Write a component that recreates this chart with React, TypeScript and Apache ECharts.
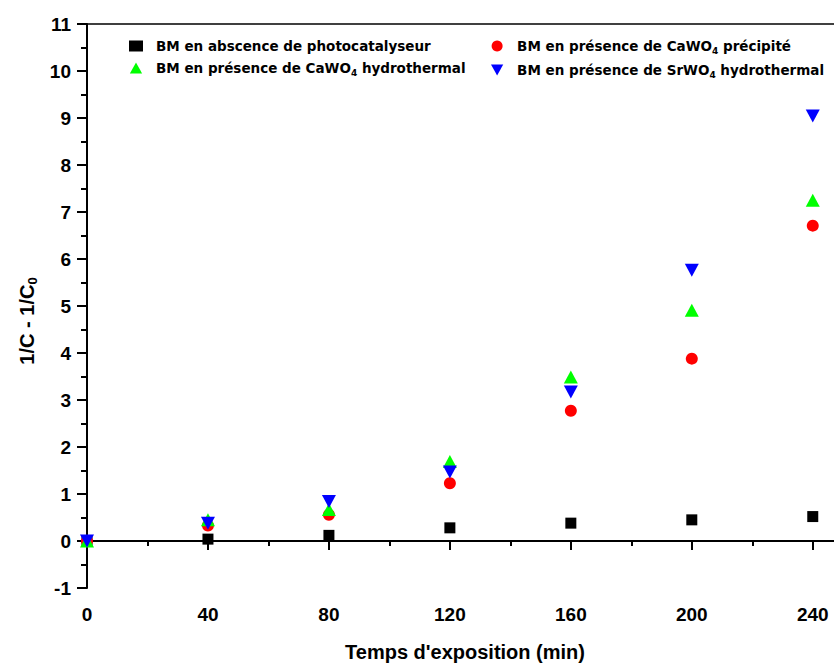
import React, { useEffect, useRef } from "react";
import * as echarts from "echarts";

const times = [0, 40, 80, 120, 160, 200, 240];
const noCatalyst = [0, 0.04, 0.12, 0.28, 0.38, 0.45, 0.52];
const caWO4Precip = [0, 0.33, 0.56, 1.23, 2.77, 3.88, 6.71];
const caWO4Hydro = [0, 0.45, 0.67, 1.69, 3.49, 4.91, 7.25];
const srWO4Hydro = [0, 0.38, 0.84, 1.47, 3.17, 5.76, 9.04];

const seriesNames = [
  "BM en abscence de photocatalyseur",
  "BM en présence de CaWO4 précipité",
  "BM en présence de CaWO4 hydrothermal",
  "BM en présence de SrWO4 hydrothermal",
];
const legendRich: Record<string, string> = {
  "BM en abscence de photocatalyseur": "{g|}{t|BM en abscence de photocatalyseur}",
  "BM en présence de CaWO4 précipité": "{g|}{t|BM en présence de CaWO}{s|4}{t| précipité}",
  "BM en présence de CaWO4 hydrothermal": "{g|}{t|BM en présence de CaWO}{s|4}{t| hydrothermal}",
  "BM en présence de SrWO4 hydrothermal": "{g|}{t|BM en présence de SrWO}{s|4}{t| hydrothermal}",
};

const UP = "path://M5,0 L10,9 L0,9 Z";
const DOWN = "path://M0,0 L10,0 L5,9 Z";
const FONT = "'Liberation Sans', Arial, sans-serif";
const LFONT = "'DejaVu Sans', sans-serif";

const pairs = (ys: number[]) => times.map((t, i) => [t, ys[i]]);

export default function App() {
  const ref = useRef<HTMLDivElement>(null);
  useEffect(() => {
    if (!ref.current) return;
    const chart = echarts.init(ref.current, null, { renderer: "svg" });
    const legendText = {
      fontFamily: LFONT,
      rich: {
        g: { width: 8 },
        t: { fontFamily: LFONT, fontSize: 13.5, fontWeight: "bold", color: "#000" },
        s: { fontFamily: LFONT, fontSize: 9, fontWeight: "bold", color: "#000", padding: [9, 0, 0, 0] },
      },
    };
    chart.setOption({
      animation: false,
      backgroundColor: "#fff",
      grid: { left: 87, top: 24, width: 756, height: 564, outerBoundsMode: "none", containLabel: false },
      legend: [
        {
          data: [
            { name: seriesNames[0], icon: "rect" },
            { name: seriesNames[2], icon: UP },
          ],
          orient: "vertical",
          left: 124,
          top: 34,
          itemWidth: 14,
          itemHeight: 11,
          itemGap: 8,
          formatter: (n: string) => legendRich[n],
          textStyle: legendText,
        },
        {
          data: [
            { name: seriesNames[1], icon: "circle" },
            { name: seriesNames[3], icon: DOWN },
          ],
          orient: "vertical",
          left: 486,
          top: 34,
          itemWidth: 14,
          itemHeight: 11,
          itemGap: 8,
          formatter: (n: string) => legendRich[n],
          textStyle: legendText,
        },
      ],
      xAxis: [
        {
          type: "value",
          min: 0,
          max: 250,
          interval: 40,
          position: "bottom",
          name: "Temps d'exposition (min)",
          nameLocation: "middle",
          nameGap: 54,
          nameTextStyle: { fontFamily: FONT, fontSize: 20, fontWeight: "bold", color: "#000" },
          axisLine: { lineStyle: { color: "#000", width: 2 } },
          axisTick: { show: true, inside: false, length: 9, lineStyle: { width: 2, color: "#000" } },
          minorTick: { show: true, splitNumber: 2, length: 5, lineStyle: { width: 2, color: "#000" } },
          splitLine: { show: false },
          axisLabel: {
            fontFamily: FONT,
            fontSize: 19,
            fontWeight: "bold",
            color: "#000",
            margin: 17,
            showMaxLabel: false,
            formatter: (v: number) => (v % 40 === 0 ? String(v) : ""),
          },
        },
        {
          type: "value",
          min: 0,
          max: 250,
          position: "top",
          axisLine: { show: true, onZero: false, lineStyle: { color: "#000", width: 1.5 } },
          axisTick: { show: false },
          axisLabel: { show: false },
          splitLine: { show: false },
        },
      ],
      yAxis: {
        type: "value",
        min: -1,
        max: 11,
        interval: 1,
        name: "{a|1/C - 1/C}{s|0}",
        nameLocation: "middle",
        nameGap: 46,
        nameRotate: 90,
        nameTextStyle: {
          padding: [0, 30, 0, 0],
          rich: {
            a: { fontFamily: FONT, fontSize: 20, fontWeight: "bold", color: "#000" },
            s: { fontFamily: FONT, fontSize: 13, fontWeight: "bold", color: "#000", padding: [11, 0, 0, 0] },
          },
        },
        axisLine: { show: true, onZero: false, lineStyle: { color: "#000", width: 2 } },
        axisTick: { show: true, inside: false, length: 10, lineStyle: { width: 2, color: "#000" } },
        minorTick: { show: true, splitNumber: 2, length: 6, lineStyle: { width: 2, color: "#000" } },
        splitLine: { show: false },
        axisLabel: { fontFamily: FONT, fontSize: 19, fontWeight: "bold", color: "#000", margin: 16 },
      },
      series: [
        {
          name: seriesNames[0],
          type: "scatter",
          data: pairs(noCatalyst),
          symbol: "rect",
          symbolSize: 11,
          itemStyle: { color: "#000", opacity: 1 },
        },
        {
          name: seriesNames[1],
          type: "scatter",
          data: pairs(caWO4Precip),
          symbol: "circle",
          symbolSize: 12,
          itemStyle: { color: "#ff0000", opacity: 1 },
        },
        {
          name: seriesNames[2],
          type: "scatter",
          data: pairs(caWO4Hydro),
          symbol: UP,
          symbolSize: [14, 13],
          itemStyle: { color: "#00ff00", opacity: 1 },
        },
        {
          name: seriesNames[3],
          type: "scatter",
          data: pairs(srWO4Hydro),
          symbol: DOWN,
          symbolSize: [14, 13],
          itemStyle: { color: "#0000ff", opacity: 1 },
        },
      ],
    });
    return () => chart.dispose();
  }, []);
  return (
    <div style={{ position: "absolute", left: 0, top: 0, width: 834, height: 664, overflow: "hidden" }}>
      <div ref={ref} style={{ width: 860, height: 664 }} />
    </div>
  );
}
